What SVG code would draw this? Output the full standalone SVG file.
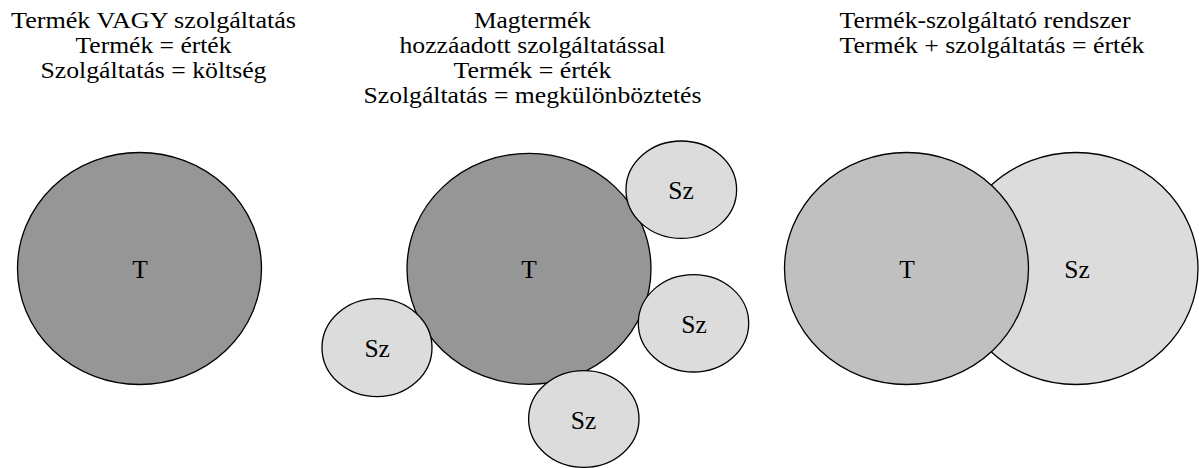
<svg xmlns="http://www.w3.org/2000/svg" width="1199" height="468" viewBox="0 0 1199 468">
<style>
text{font-family:"Liberation Serif","Times New Roman",serif;font-size:24px;fill:#000}
.c{text-anchor:middle}
.n{stroke:#000;stroke-width:1.3}
.dark{fill:#969696}
.mid{fill:#c0c0c0}
.light{fill:#dcdcdc}
.lbl{font-size:25.5px}
</style>
<rect width="1199" height="468" fill="#fff"/>
<g id="header-left">
<text class="c" x="153.5" y="28.3" textLength="285" lengthAdjust="spacingAndGlyphs">Termék VAGY szolgáltatás</text>
<text class="c" x="153.5" y="53.3" textLength="156" lengthAdjust="spacingAndGlyphs">Termék = érték</text>
<text class="c" x="153.5" y="78.3" textLength="226" lengthAdjust="spacingAndGlyphs">Szolgáltatás = költség</text>
</g>
<g id="header-middle">
<text class="c" x="532.5" y="28.3" textLength="117" lengthAdjust="spacingAndGlyphs">Magtermék</text>
<text class="c" x="532.5" y="53.3" textLength="266" lengthAdjust="spacingAndGlyphs">hozzáadott szolgáltatással</text>
<text class="c" x="532.5" y="78.3" textLength="158" lengthAdjust="spacingAndGlyphs">Termék = érték</text>
<text class="c" x="532.5" y="103.3" textLength="338" lengthAdjust="spacingAndGlyphs">Szolgáltatás = megkülönböztetés</text>
</g>
<g id="header-right">
<text x="839.5" y="28.3" textLength="291" lengthAdjust="spacingAndGlyphs">Termék-szolgáltató rendszer</text>
<text x="839.5" y="53.3" textLength="305" lengthAdjust="spacingAndGlyphs">Termék + szolgáltatás = érték</text>
</g>
<g id="left-T">
<ellipse class="n dark" cx="139.5" cy="268.5" rx="122" ry="116"/>
<text class="c lbl" x="140" y="277.5">T</text>
</g>
<g id="mid-T">
<ellipse class="n dark" cx="529" cy="268.8" rx="122" ry="115.5"/>
<text class="c lbl" x="529" y="277.5">T</text>
</g>
<g id="mid-Sz-top">
<ellipse class="n light" cx="681.3" cy="189.7" rx="55.3" ry="48.7"/>
<text class="c lbl" x="681" y="199.3">Sz</text>
</g>
<g id="mid-Sz-right">
<ellipse class="n light" cx="693.5" cy="323.3" rx="55.2" ry="48.7"/>
<text class="c lbl" x="694" y="332.7">Sz</text>
</g>
<g id="mid-Sz-left">
<ellipse class="n light" cx="377" cy="347.7" rx="55" ry="49"/>
<text class="c lbl" x="377.2" y="356.7">Sz</text>
</g>
<g id="mid-Sz-bottom">
<ellipse class="n light" cx="583.8" cy="419" rx="55.2" ry="48.3"/>
<text class="c lbl" x="583.5" y="429.3">Sz</text>
</g>
<g id="right-Sz">
<ellipse class="n light" cx="1076" cy="268.5" rx="122" ry="116"/>
<text class="c lbl" x="1077" y="277.7">Sz</text>
</g>
<g id="right-T">
<ellipse class="n mid" cx="906.5" cy="268.5" rx="122" ry="116"/>
<text class="c lbl" x="907" y="277.7">T</text>
</g>
<g id="connectors"/>
</svg>
